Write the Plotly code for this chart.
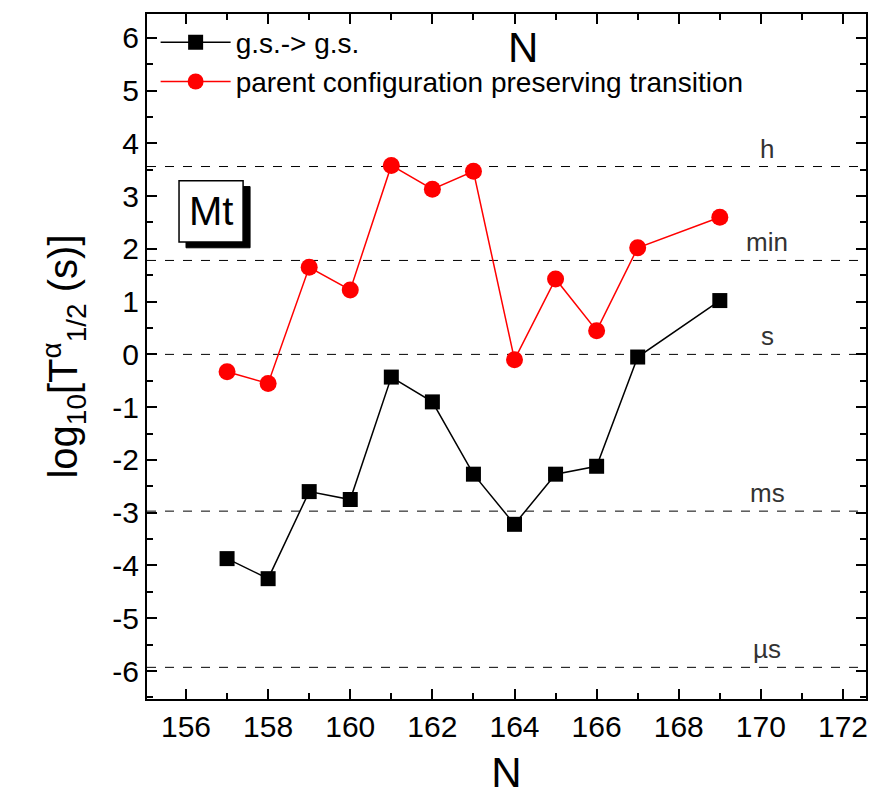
import plotly.graph_objects as go

N = [157, 158, 159, 160, 161, 162, 163, 164, 165, 166, 167, 169]
gs_gs = [-3.87, -4.25, -2.60, -2.75, -0.43, -0.90, -2.27, -3.22, -2.27, -2.12, -0.05, 1.02]
parent_conf = [-0.33, -0.55, 1.65, 1.22, 3.58, 3.13, 3.47, -0.10, 1.43, 0.45, 2.02, 2.60]

time_levels = [3.56, 1.78, 0.0, -2.97, -5.93]
time_labels = ["h", "min", "s", "ms", "µs"]

x_ticks = [156, 158, 160, 162, 164, 166, 168, 170, 172]
y_ticks = [-6, -5, -4, -3, -2, -1, 0, 1, 2, 3, 4, 5, 6]

FONT = "Liberation Sans, Arial"

fig = go.Figure()

for lv in time_levels:
    fig.add_shape(type="line", xref="paper", x0=0, x1=1, yref="y", y0=lv, y1=lv,
                  line=dict(color="black", width=1, dash="dash"), layer="below")
for lv, lab in zip(time_levels, time_labels):
    fig.add_annotation(x=170.15, y=lv, text=lab, showarrow=False, yanchor="bottom",
                       yshift=1, font=dict(family=FONT, size=26, color="#333333"))

fig.add_trace(go.Scatter(x=N, y=gs_gs, mode="lines+markers", name="g.s.-> g.s.",
                         line=dict(color="black", width=1.5),
                         marker=dict(symbol="square", size=15, color="black")))
fig.add_trace(go.Scatter(x=N, y=parent_conf, mode="lines+markers",
                         name="parent configuration preserving transition",
                         line=dict(color="#ff0000", width=1.5),
                         marker=dict(symbol="circle", size=17, color="#ff0000")))

# Mt label box with shadow
fig.add_shape(type="rect", xref="x", yref="y", x0=156.0, x1=157.56, y0=2.02, y1=3.18,
              fillcolor="black", line=dict(color="black", width=1))
fig.add_shape(type="rect", xref="x", yref="y", x0=155.83, x1=157.39, y0=2.13, y1=3.29,
              fillcolor="white", line=dict(color="black", width=1.5))
fig.add_annotation(x=156.61, y=2.71, text="Mt", showarrow=False,
                   font=dict(family=FONT, size=40, color="black"))

# top "N"
fig.add_annotation(x=164.2, y=5.82, text="N", showarrow=False,
                   font=dict(family=FONT, size=42, color="black"))

axis_common = dict(showline=True, linecolor="black", linewidth=2, mirror="allticks",
                   ticks="inside", ticklen=10, tickwidth=1.5, tickcolor="black",
                   showgrid=False, zeroline=False,
                   tickfont=dict(family=FONT, size=30, color="black"))

fig.update_xaxes(range=[155.05, 172.56], tickvals=x_ticks, ticktext=[str(v) for v in x_ticks],
                 minor=dict(ticks="inside", ticklen=6, dtick=1, tickcolor="black", tickwidth=1.5),
                 title=dict(text="N", font=dict(family=FONT, size=42, color="black"), standoff=16),
                 **axis_common)
fig.update_yaxes(range=[-6.53, 6.45], tickvals=y_ticks, ticktext=[str(v) for v in y_ticks],
                 minor=dict(ticks="inside", ticklen=6, dtick=0.5, tickcolor="black", tickwidth=1.5),
                 title=dict(text="log<sub>10</sub>[T<sup>α</sup><sub>1/2</sub> (s)]",
                            font=dict(family=FONT, size=40, color="black"), standoff=22),
                 **axis_common)

fig.update_layout(
    width=881, height=807,
    margin=dict(l=147, r=15, t=14, b=108),
    plot_bgcolor="white", paper_bgcolor="white",
    legend=dict(x=0.012, y=0.995, xanchor="left", yanchor="top", bgcolor="rgba(0,0,0,0)",
                font=dict(family=FONT, size=28, color="black"), itemwidth=70,
                tracegroupgap=0),
    showlegend=True,
)

fig.write_html("out.html")
